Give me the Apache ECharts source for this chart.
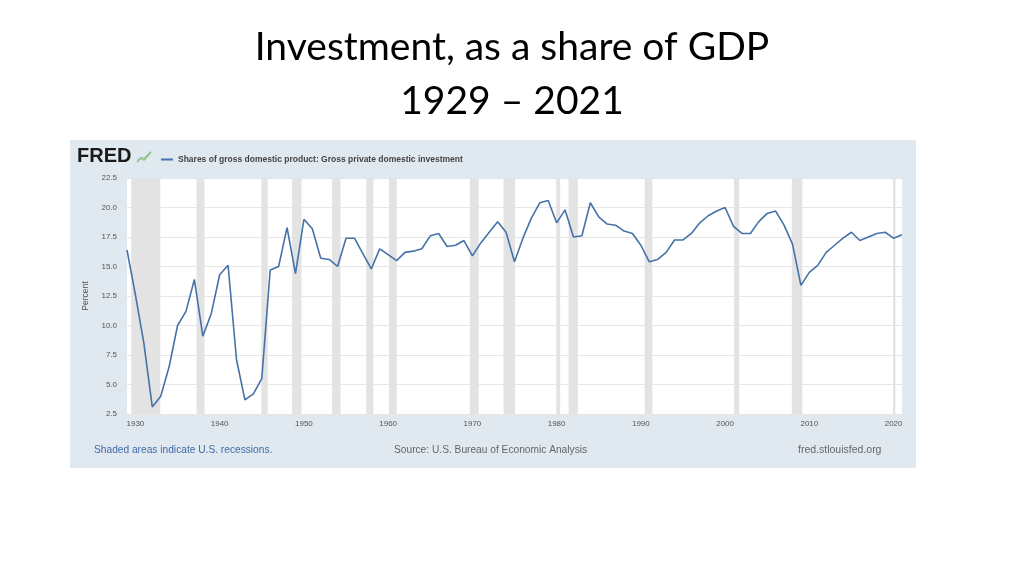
<!DOCTYPE html>
<html>
<head>
<meta charset="utf-8">
<script src="https://cdn.jsdelivr.net/npm/echarts@6/dist/echarts.min.js"></script>
<style>
html,body{margin:0;padding:0;background:#fff;}
#c{width:1024px;height:576px;}
</style>
</head>
<body>
<div id="c"></div>
<script>
const years = [1929,1930,1931,1932,1933,1934,1935,1936,1937,1938,1939,1940,1941,1942,1943,1944,1945,1946,1947,1948,1949,
1950,1951,1952,1953,1954,1955,1956,1957,1958,1959,1960,1961,1962,1963,1964,1965,1966,1967,1968,1969,
1970,1971,1972,1973,1974,1975,1976,1977,1978,1979,1980,1981,1982,1983,1984,1985,1986,1987,1988,1989,
1990,1991,1992,1993,1994,1995,1996,1997,1998,1999,2000,2001,2002,2003,2004,2005,2006,2007,2008,2009,
2010,2011,2012,2013,2014,2015,2016,2017,2018,2019,2020,2021];
const investmentShare = [16.4,12.6,8.5,3.1,4.0,6.5,10.0,11.2,13.9,9.1,11.0,14.3,15.1,7.1,3.7,4.2,5.5,14.7,15.0,18.3,14.4,
19.0,18.2,15.7,15.6,15.0,17.4,17.4,16.1,14.8,16.5,16.0,15.5,16.2,16.3,16.5,17.6,17.8,16.7,16.8,17.2,
15.9,17.0,17.9,18.8,17.9,15.4,17.4,19.1,20.4,20.6,18.7,19.8,17.5,17.6,20.4,19.2,18.6,18.5,18.0,17.8,
16.8,15.4,15.6,16.2,17.25,17.25,17.8,18.7,19.3,19.7,20.0,18.4,17.8,17.8,18.8,19.5,19.7,18.5,16.9,13.4,
14.5,15.1,16.2,16.8,17.4,17.9,17.2,17.5,17.8,17.9,17.4,17.7];
const recessions = [[1929.5,1932.95],[1937.25,1938.2],[1944.95,1945.7],[1948.6,1949.72],[1953.35,1954.35],
[1957.4,1958.25],[1960.1,1961.02],[1969.7,1970.75],[1973.7,1975.07],[1979.95,1980.42],[1981.42,1982.52],
[1990.45,1991.37],[2001.05,2001.68],[2007.92,2009.17],[2019.93,2020.22]];
const xTickLabels = [1930,1940,1950,1960,1970,1980,1990,2000,2010,2020];
const seriesName = 'Shares of gross domestic product: Gross private domestic investment';

const chart = echarts.init(document.getElementById('c'), null, {renderer:'canvas'});
const sans = '"Liberation Sans", Arial, sans-serif';
const titleFont = 'Lato, "Open Sans", sans-serif';
chart.setOption({
  backgroundColor: '#ffffff',
  animation: false,
  title: [
    {text: 'Investment, as a share of GDP', left: 'center', top: 28, padding: 0,
     textStyle: {fontFamily: titleFont, fontWeight: 'normal', fontSize: 39, color: '#000'}},
    {text: '1929 \u2013 2021', left: 'center', top: 82, padding: 0,
     textStyle: {fontFamily: titleFont, fontWeight: 'normal', fontSize: 39, color: '#000'}},
    {text: 'FRED', left: 77, top: 146, padding: 0,
     textStyle: {fontFamily: sans, fontWeight: 900, fontSize: 20, color: '#1a1a1a'}},
    {text: 'Shaded areas indicate U.S. recessions.', left: 94, top: 445, padding: 0,
     textStyle: {fontFamily: sans, fontWeight: 'normal', fontSize: 10.2, color: '#3f6aa6'}},
    {text: 'Source: U.S. Bureau of Economic Analysis', left: 394, top: 445, padding: 0,
     textStyle: {fontFamily: sans, fontWeight: 'normal', fontSize: 10.2, color: '#666'}},
    {text: 'fred.stlouisfed.org', left: 798, top: 445, padding: 0,
     textStyle: {fontFamily: sans, fontWeight: 'normal', fontSize: 10.5, color: '#666'}}
  ],
  graphic: [
    {type: 'rect', z: -10, shape: {x: 70, y: 140, width: 846, height: 328}, style: {fill: '#e1e9f0'}},
    {type: 'polyline', z: 10, shape: {points: [[137,162],[141,158],[144,160],[151,152]]},
     style: {stroke: '#8cc06a', lineWidth: 1.5, fill: null}},
    {type: 'polyline', z: 10, shape: {points: [[137,160],[141,157],[144,158],[151,151]]},
     style: {stroke: '#a9c3dd', lineWidth: 1, fill: null}}
  ],
  legend: {
    left: 156, top: 150, itemWidth: 12, itemHeight: 2, icon: 'rect',
    textStyle: {fontFamily: sans, fontWeight: 'bold', fontSize: 8.5, color: '#444'},
    data: [seriesName]
  },
  grid: {left: 127, right: 122, top: 178, bottom: 162, show: true, backgroundColor: '#ffffff', borderWidth: 0},
  xAxis: {
    type: 'value', min: 1929, max: 2021,
    axisLine: {show: false}, axisTick: {show: false}, splitLine: {show: false},
    axisLabel: {customValues: xTickLabels, formatter: v => String(v), fontFamily: sans, fontSize: 8, color: '#555', margin: 6}
  },
  yAxis: {
    type: 'value', min: 2.5, max: 22.5, interval: 2.5,
    name: 'Percent', nameLocation: 'middle', nameGap: 37, nameRotate: 90,
    nameTextStyle: {fontFamily: sans, fontSize: 8.5, color: '#555'},
    axisLine: {show: false}, axisTick: {show: false},
    splitLine: {lineStyle: {color: '#e6e6e6', width: 1}},
    axisLabel: {formatter: v => v.toFixed(1), fontFamily: sans, fontSize: 8, color: '#555', margin: 10}
  },
  series: [{
    name: seriesName, type: 'line', showSymbol: false, symbol: 'none',
    data: years.map((y, i) => [y, investmentShare[i]]),
    lineStyle: {color: '#4572a7', width: 1.6}, itemStyle: {color: '#4572a7'},
    markArea: {silent: true, itemStyle: {color: '#e3e3e3'},
      data: recessions.map(r => [{xAxis: r[0]}, {xAxis: r[1]}])}
  }]
});
</script>
</body>
</html>
